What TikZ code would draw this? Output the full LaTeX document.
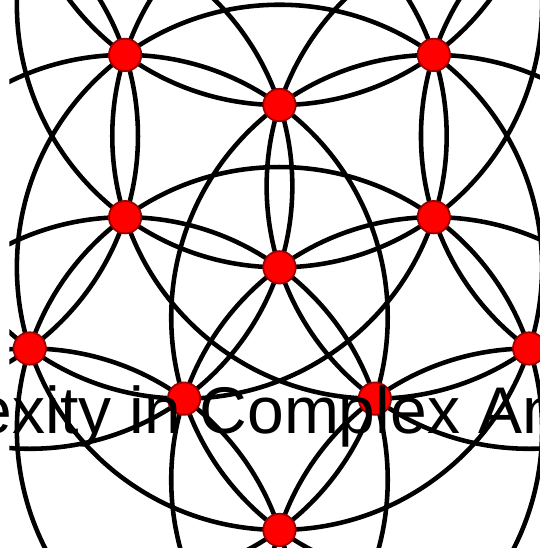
\documentclass[tikz,border=0pt]{standalone}
\usepackage{fontspec}
\setmainfont{Liberation Sans}
\definecolor{dotred}{HTML}{FF0000}
\definecolor{dotrim}{HTML}{990000}

\begin{document}
\begin{tikzpicture}[
          ring/.style={draw=black, line width=0.8pt},
          vtx/.style={circle, fill=dotred, draw=dotrim, line width=0.3pt, minimum size=0.2cm, inner sep=0pt}]
          \useasboundingbox (-1.722,-1.754) rectangle (1.599,1.647);
          % circles of radius phi, centred at o, at distance 1, phi and phi^2
          \begin{scope}
            \clip (-1.664,-1.724) rectangle (1.7,1.7);
            \draw[ring] (0,0) circle (1.618)
              (54:1) circle (1.618) (126:1) circle (1.618) (198:1) circle (1.618)
              (270:1) circle (1.618) (342:1) circle (1.618);
            \draw[ring] (18:1.618) circle (1.618) (90:1.618) circle (1.618)
              (162:1.618) circle (1.618) (234:1.618) circle (1.618) (306:1.618) circle (1.618);
            \draw[ring] (18:2.618) circle (1.618) (90:2.618) circle (1.618)
              (162:2.618) circle (1.618) (234:2.618) circle (1.618) (306:2.618) circle (1.618);
          \end{scope}
          % meeting points
          \node[vtx] (o) at (0,0) {};
          \node[vtx] (top) at (90:1) {};
          \node[vtx] (upleft) at (162:1) {};
          \node[vtx] (upright) at (18:1) {};
          \node[vtx] (lowleft) at (234:1) {};
          \node[vtx] (lowright) at (306:1) {};
          \node[vtx] (farleft) at (126:1.618) {};
          \node[vtx] (farright) at (54:1.618) {};
          \node[vtx] (sideleft) at (198:1.618) {};
          \node[vtx] (sideright) at (342:1.618) {};
          \node[vtx] (bottom) at (270:1.618) {};
          \node[anchor=base, inner sep=0pt, font=\fontsize{11.57pt}{13pt}\selectfont] (title) at (-0.152,-1.024) {Complexity in Complex Analysis};
        \end{tikzpicture}
\end{document}
